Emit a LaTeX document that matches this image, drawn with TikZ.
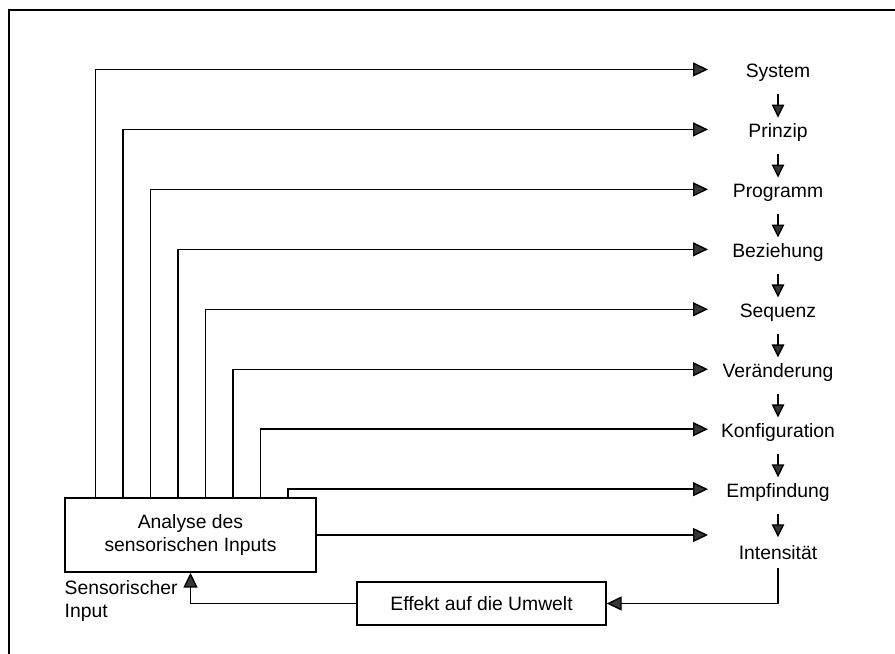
\documentclass[tikz,border=0pt]{standalone}
\usepackage{fontspec}
\setmainfont{Liberation Sans}
\usetikzlibrary{positioning, arrows.meta, calc}
\definecolor{tipgray}{HTML}{3A3636}

\begin{document}
\begin{tikzpicture}[
  font=\fontsize{11}{13.5}\selectfont,
  stage/.style={
    inner sep=0pt, minimum height=0.6cm, align=center,
  },
  box/.style={
    rectangle, draw, line width=0.8pt, align=center, inner sep=4pt,
  },
  arrow/.style={-{Triangle[length=0.3cm, width=0.28cm, fill=tipgray]}, line width=0.8pt},
  down/.style={-{Triangle[length=0.26cm, width=0.25cm, fill=tipgray]}, line width=0.8pt,
    shorten <=0.12cm},
]
\useasboundingbox (0,0) rectangle (17.9,13.08);
\draw[line width=1.2pt] (0.18,0) -- (0.18,12.88) -- (17.9,12.88);

% stages, top to bottom
\node[stage]                              (system)        at (15.56,11.62) {System};
\node[stage, below=0.585cm of system]     (prinzip)       {Prinzip};
\node[stage, below=0.585cm of prinzip]    (programm)      {Programm};
\node[stage, below=0.585cm of programm]   (beziehung)     {Beziehung};
\node[stage, below=0.585cm of beziehung]  (sequenz)       {Sequenz};
\node[stage, below=0.585cm of sequenz]    (veraenderung)  {Veränderung};
\node[stage, below=0.585cm of veraenderung] (konfiguration) {Konfiguration};
\node[stage, below=0.585cm of konfiguration] (empfindung) {Empfindung};
\node[stage, below=0.585cm of empfindung] (intensitaet)   {Intensität};

\foreach \a/\b in {system/prinzip, prinzip/programm, programm/beziehung,
  beziehung/sequenz, sequenz/veraenderung, veraenderung/konfiguration,
  konfiguration/empfindung, empfindung/intensitaet}
  \draw[down] (\a) -- (\b);

\node[box, minimum width=5.02cm, minimum height=1.48cm] (analyse) at (3.81,2.38)
  {Analyse des\\sensorischen Inputs};
\node[box, minimum width=4.98cm, minimum height=0.86cm] (effekt) at (9.63,1.01)
  {Effekt auf die Umwelt};
\node[anchor=north west, inner sep=0pt, align=left] (sensor)
  at ([yshift=-0.14cm]analyse.south west) {Sensorischer\\Input};

% column where the horizontal arrows end
\coordinate (tipcol) at (14.16,0);

\foreach \lbl [count=\i from 0] in {system, prinzip, programm, beziehung,
  sequenz, veraenderung, konfiguration, empfindung}
  \draw[arrow] ([xshift=0.62cm+\i*0.55cm]analyse.north west) |- ([yshift=2pt]tipcol |- \lbl);

\draw[arrow] (analyse.east) -- (tipcol |- analyse.east);
\draw[arrow] (intensitaet.south) |- (effekt.east);
\draw[arrow] (effekt.west) -| (analyse.south);
\end{tikzpicture}
\end{document}
